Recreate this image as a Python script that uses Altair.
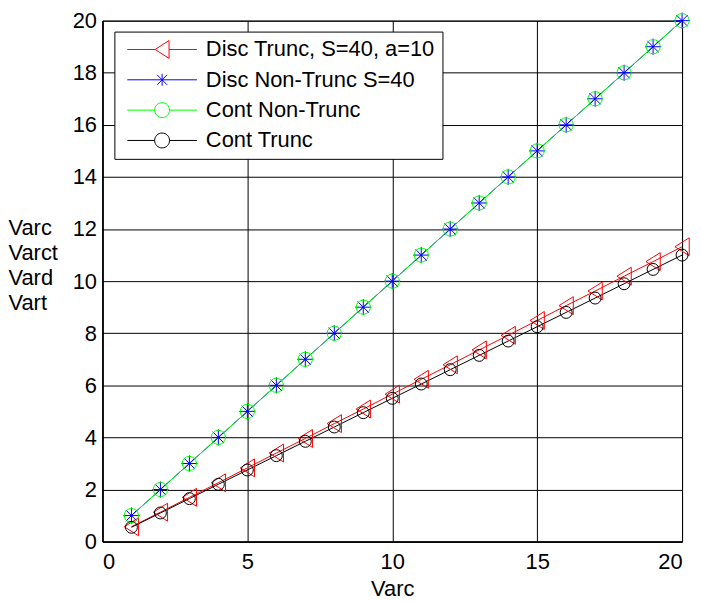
import altair as alt
import pandas as pd

# ---- data ----
x_vals = list(range(1, 21))
disc_trunc = [0.57, 1.13, 1.70, 2.26, 2.83, 3.40, 3.96, 4.53, 5.09, 5.66,
              6.23, 6.79, 7.36, 7.92, 8.49, 9.06, 9.62, 10.19, 10.75, 11.32]
disc_nontrunc = [1, 2, 3, 4, 5, 6, 7, 8, 9, 10,
                 11, 12, 13, 14, 15, 16, 17, 18, 19, 20]
cont_nontrunc = [1, 2, 3, 4, 5, 6, 7, 8, 9, 10,
                 11, 12, 13, 14, 15, 16, 17, 18, 19, 20]
cont_trunc = [0.55, 1.10, 1.65, 2.20, 2.75, 3.30, 3.85, 4.40, 4.95, 5.50,
              6.05, 6.60, 7.15, 7.70, 8.25, 8.80, 9.35, 9.90, 10.45, 11.00]

series_names = ["Disc Trunc, S=40, a=10", "Disc Non-Trunc S=40",
                "Cont Non-Trunc", "Cont Trunc"]
series_colors = ["#ff0000", "#0000ff", "#00ff00", "#000000"]
x_ticks = [0, 5, 10, 15, 20]
y_ticks = [0, 2, 4, 6, 8, 10, 12, 14, 16, 18, 20]
y_title = ["Varc", "Varct", "Vard", "Vart"]
x_title = "Varc"

# marker shapes (plot) and legend glyphs (line + marker), unit = 10 px in legend
marker_paths = [
    "M-0.8,0L0.8,-1L0.8,1Z",
    "M0,-1L0,1M-1,0L1,0M-0.7,-0.7L0.7,0.7M-0.7,0.7L0.7,-0.7",
    "circle",
    "circle",
]
legend_paths = [
    "M-3.5,0L-0.7,0M0.7,0L3.5,0M-0.7,0L0.7,-0.9L0.7,0.9Z",
    "M-3.5,0L3.5,0M0,-0.6L0,0.6M-0.5,-0.5L0.5,0.5M-0.5,0.5L0.5,-0.5",
    "M-3.5,0L-0.75,0M0.75,0L3.5,0M0.75,0A0.75,0.75 0 1 1 -0.75,0A0.75,0.75 0 1 1 0.75,0",
    "M-3.5,0L-0.75,0M0.75,0L3.5,0M0.75,0A0.75,0.75 0 1 1 -0.75,0A0.75,0.75 0 1 1 0.75,0",
]
marker_sizes = [324, 144, 196, 196]

rows = []
for name, vals in zip(series_names, [disc_trunc, disc_nontrunc, cont_nontrunc, cont_trunc]):
    for xv, yv in zip(x_vals, vals):
        rows.append({"x": xv, "y": yv, "series": name})
df = pd.DataFrame(rows)

FONT = "Liberation Sans"
FS = 22

xenc = alt.X("x:Q", scale=alt.Scale(domain=[0, 20], nice=False),
             axis=alt.Axis(values=x_ticks, title=x_title, titleY=54,
                           titleBaseline="alphabetic", labelPadding=10))
yenc = alt.Y("y:Q", scale=alt.Scale(domain=[0, 20], nice=False),
             axis=alt.Axis(values=y_ticks, title=y_title, titleAngle=0,
                           titleAlign="left", titleBaseline="alphabetic",
                           titleX=-95, titleY=215, titleLineHeight=25.3,
                           labelPadding=6))

color_scale = alt.Scale(domain=series_names, range=series_colors)

lines = alt.Chart(df).mark_line(strokeWidth=1).encode(
    x=xenc, y=yenc,
    color=alt.Color("series:N", scale=color_scale, legend=None),
    detail="series:N",
)

points = alt.Chart(df).mark_point(filled=False, strokeWidth=1, opacity=1).encode(
    x=xenc, y=yenc,
    color=alt.Color("series:N", scale=color_scale, legend=None),
    shape=alt.Shape("series:N", scale=alt.Scale(domain=series_names, range=marker_paths), legend=None),
    size=alt.Size("series:N", scale=alt.Scale(domain=series_names, range=marker_sizes), legend=None),
)

legend_props = dict(title=None, orient="none", legendX=12, legendY=11,
                    symbolSize=400, symbolStrokeWidth=1, symbolOffset=30,
                    labelOffset=33, labelFont=FONT, labelFontSize=FS,
                    labelColor="#000", labelLimit=400,
                    strokeColor="#000", fillColor="#fff",
                    padding=7, rowPadding=8.5)

legend_layer = alt.Chart(df).mark_point(filled=False, strokeWidth=1, opacity=1).encode(
    x=xenc, y=yenc,
    color=alt.Color("series:N", scale=color_scale, legend=alt.Legend(**legend_props)),
    shape=alt.Shape("series:N", scale=alt.Scale(domain=series_names, range=legend_paths),
                    legend=alt.Legend(**legend_props)),
).transform_filter("false")

chart = alt.layer(lines, points, legend_layer).resolve_scale(
    color="independent", shape="independent", size="independent"
).properties(
    width=583, height=524, padding=0,
).configure_view(
    stroke="#000", strokeWidth=1
).configure_axis(
    grid=True, gridColor="#000", gridWidth=1, gridOpacity=1,
    domainColor="#000", domainWidth=1.5, ticks=False,
    labelFont=FONT, labelFontSize=FS, labelColor="#000",
    titleFont=FONT, titleFontSize=FS, titleFontWeight="normal", titleColor="#000",
)

chart.save("out.html", embed_options={"renderer": "svg", "actions": False})
